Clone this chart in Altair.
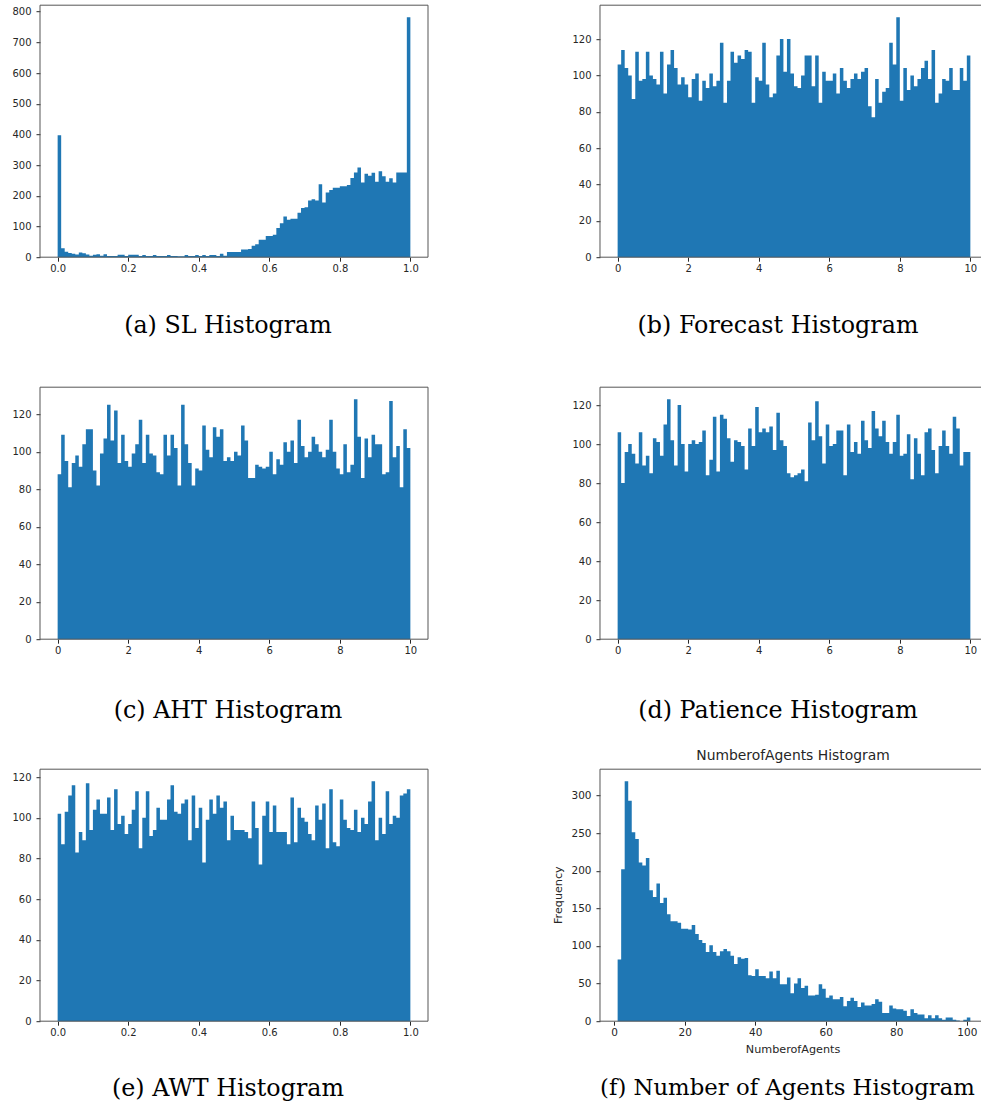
import altair as alt
import numpy as np
import pandas as pd

# Bin counts, 100 equal-width bins per variable
sl_counts = [397, 29, 18, 14, 11, 9, 15, 13, 9, 5,
             8, 10, 5, 10, 4, 4, 4, 8, 8, 4,
             8, 8, 8, 4, 7, 4, 4, 7, 4, 4,
             4, 7, 4, 4, 3, 3, 7, 4, 4, 7,
             4, 7, 4, 7, 7, 4, 11, 5, 17, 17,
             17, 17, 25, 25, 27, 37, 42, 57, 57, 69,
             69, 73, 95, 111, 133, 122, 125, 125, 145, 160,
             163, 185, 189, 185, 238, 178, 211, 219, 226, 226,
             231, 231, 235, 258, 276, 292, 243, 272, 265, 275,
             246, 280, 264, 246, 257, 243, 276, 276, 276, 782]

forecast_counts = [106, 114, 104, 100, 87, 113, 97, 98, 113, 100,
                   98, 95, 113, 90, 106, 114, 104, 95, 99, 95,
                   88, 98, 101, 86, 97, 93, 101, 94, 97, 118,
                   85, 97, 113, 107, 111, 109, 114, 113, 85, 99,
                   97, 118, 95, 88, 90, 111, 120, 102, 120, 101,
                   94, 93, 100, 111, 111, 94, 111, 85, 102, 97,
                   97, 101, 90, 104, 97, 93, 98, 101, 98, 102,
                   104, 83, 77, 98, 85, 91, 93, 118, 106, 132,
                   86, 104, 92, 100, 94, 98, 104, 108, 98, 114,
                   85, 90, 98, 97, 104, 92, 92, 104, 97, 111]

aht_counts = [88, 109, 95, 81, 94, 98, 92, 104, 112, 112,
              90, 82, 99, 107, 125, 106, 122, 94, 109, 95,
              92, 99, 104, 117, 94, 109, 99, 98, 89, 88,
              109, 98, 109, 102, 82, 125, 104, 94, 82, 91,
              90, 114, 101, 97, 113, 108, 112, 95, 97, 95,
              100, 98, 114, 106, 86, 86, 93, 92, 91, 92,
              100, 88, 96, 93, 105, 100, 106, 94, 117, 103,
              97, 100, 108, 104, 100, 97, 101, 117, 100, 91,
              88, 104, 89, 93, 128, 108, 86, 107, 97, 109,
              104, 104, 88, 89, 127, 97, 103, 81, 112, 102]

patience_counts = [106, 80, 96, 100, 95, 90, 106, 89, 94, 85,
                   103, 101, 94, 110, 123, 102, 89, 120, 100, 86,
                   100, 102, 100, 101, 107, 84, 92, 114, 86, 115,
                   113, 103, 91, 102, 101, 99, 87, 108, 99, 119,
                   106, 108, 106, 109, 97, 116, 102, 99, 85, 83,
                   84, 85, 87, 81, 111, 102, 122, 104, 90, 110,
                   99, 100, 107, 107, 84, 110, 96, 101, 95, 112,
                   102, 98, 117, 108, 104, 112, 101, 95, 101, 115,
                   94, 95, 105, 82, 103, 95, 84, 106, 108, 97,
                   85, 99, 107, 99, 95, 114, 108, 89, 96, 96]

awt_counts = [102, 87, 103, 111, 116, 83, 93, 89, 117, 94,
              104, 109, 102, 102, 110, 94, 114, 97, 101, 92,
              97, 104, 113, 85, 100, 113, 91, 94, 105, 99,
              99, 109, 116, 103, 102, 107, 109, 89, 111, 95,
              105, 78, 99, 109, 102, 111, 105, 108, 89, 101,
              94, 94, 94, 93, 90, 108, 95, 77, 101, 108,
              93, 106, 93, 93, 93, 87, 110, 88, 105, 100,
              98, 92, 89, 106, 99, 107, 85, 114, 88, 86,
              109, 99, 95, 94, 104, 93, 100, 97, 108, 118,
              89, 100, 92, 113, 97, 101, 100, 111, 112, 114]

agents_counts = [82, 202, 319, 293, 251, 242, 211, 207, 217, 174,
                 165, 183, 157, 164, 142, 133, 133, 131, 123, 123,
                 122, 128, 116, 108, 104, 92, 101, 92, 87, 93,
                 96, 93, 87, 76, 85, 83, 84, 61, 60, 69,
                 60, 60, 57, 66, 57, 67, 49, 49, 58, 37,
                 50, 57, 44, 47, 34, 34, 35, 49, 43, 31,
                 34, 29, 29, 32, 20, 27, 31, 27, 19, 25,
                 21, 21, 23, 29, 26, 11, 11, 21, 17, 16,
                 16, 14, 7, 16, 11, 9, 9, 4, 8, 4,
                 8, 4, 2, 5, 5, 2, 1, 0, 2, 5]

# Histogram ranges (first bin lower edge, last bin upper edge)
sl_range = (0.0, 1.0)
forecast_range = (0.0, 10.0)
aht_range = (0.0, 10.0)
patience_range = (0.0, 10.0)
awt_range = (0.0, 1.0)
agents_range = (1.0, 101.0)

# Tick labels
unit_xticks = [0.0, 0.2, 0.4, 0.6, 0.8, 1.0]
ten_xticks = [0, 2, 4, 6, 8, 10]
agents_xticks = [0, 20, 40, 60, 80, 100]
sl_yticks = [0, 100, 200, 300, 400, 500, 600, 700, 800]
flat_yticks = [0, 20, 40, 60, 80, 100, 120]
agents_yticks = [0, 50, 100, 150, 200, 250, 300]

captions = ["(a) SL Histogram", "(b) Forecast Histogram",
            "(c) AHT Histogram", "(d) Patience Histogram",
            "(e) AWT Histogram", "(f) Number of Agents Histogram"]
agents_title = "NumberofAgents Histogram"
agents_xlabel = "NumberofAgents"
agents_ylabel = "Frequency"

# Styling
BAR = "#1f77b4"
INK = "#262626"
FRAME = "#555555"
SANS = "DejaVu Sans"
SERIF = "DejaVu Serif"
CAPTION_SIZE = 23.8
FULL_W = 388      # nominal plot width (sets the x scale density)
LEFT_W = 388
RIGHT_W = 381     # right column is cropped at the page edge
PLOT_H = 252


def panel(counts, rng, xticks, xfmt, yticks, width, caption, cap_x, cap_y,
          right_edge=True, extras=None, tick_font=10, cap_size=CAPTION_SIZE):
    lo, hi = rng
    edges = np.linspace(lo, hi, len(counts) + 1)
    # step outline: each bin's count starts at its left edge; the last
    # count is repeated at the closing edge so the final bin keeps its width
    df = pd.DataFrame({"edge": edges, "count": list(counts) + [counts[-1]]})
    span = hi - lo
    x0 = lo - 0.05 * span
    x1 = x0 + 1.1 * span * width / FULL_W
    ymax = 1.05 * max(counts)

    common = dict(grid=False, domain=False, tickSize=4, tickColor=INK,
                  tickWidth=1, labelFont=SANS, labelFontSize=tick_font,
                  labelColor=INK, labelOverlap=False, labelFlush=False)

    bars = alt.Chart(df).mark_area(color=BAR, interpolate="step-after",
                                   opacity=1).encode(
        x=alt.X("edge:Q", title=None,
                scale=alt.Scale(domain=[x0, x1], nice=False, zero=False),
                axis=alt.Axis(values=xticks, format=xfmt, labelPadding=2, **common)),
        y=alt.Y("count:Q", title=None,
                scale=alt.Scale(domain=[0, ymax], nice=False, zero=True),
                axis=alt.Axis(values=yticks, labelPadding=5, **common)),
        y2=alt.datum(0),
    )

    base = alt.Chart(pd.DataFrame({"k": [0]}))
    frame = [
        base.mark_rule(color=FRAME, strokeWidth=1).encode(
            x=alt.value(0), y=alt.value(0), y2=alt.value(PLOT_H)),
        base.mark_rule(color=FRAME, strokeWidth=1).encode(
            x=alt.value(0), x2=alt.value(width), y=alt.value(0)),
        base.mark_rule(color=FRAME, strokeWidth=1).encode(
            x=alt.value(0), x2=alt.value(width), y=alt.value(PLOT_H)),
    ]
    if right_edge:
        frame.append(base.mark_rule(color=FRAME, strokeWidth=1).encode(
            x=alt.value(width), y=alt.value(0), y2=alt.value(PLOT_H)))

    cap = alt.Chart(pd.DataFrame({"t": [caption]})).mark_text(
        font=SERIF, fontSize=cap_size, color="black", align="center",
        baseline="middle"
    ).encode(text="t:N", x=alt.value(cap_x), y=alt.value(cap_y))

    layers = [bars] + frame + [cap] + (extras or [])
    return alt.layer(*layers).properties(width=width, height=PLOT_H)


def label(text, x, y, size, angle=0):
    return alt.Chart(pd.DataFrame({"t": [text]})).mark_text(
        font=SANS, fontSize=size, color=INK, align="center", baseline="middle",
        angle=angle
    ).encode(text="t:N", x=alt.value(x), y=alt.value(y))


agents_extras = [
    label(agents_title, 193, -13, 13.9),
    label(agents_xlabel, 193, PLOT_H + 29, 11.2),
    label(agents_ylabel, -41, PLOT_H / 2, 11.2, angle=270),
]

pa = panel(sl_counts, sl_range, unit_xticks, ".1f", sl_yticks, LEFT_W,
           captions[0], 188, 320.5)
pb = panel(forecast_counts, forecast_range, ten_xticks, "d", flat_yticks, RIGHT_W,
           captions[1], 178, 320.5, right_edge=False)
pc = panel(aht_counts, aht_range, ten_xticks, "d", flat_yticks, LEFT_W,
           captions[2], 188, 323.5)
pd_ = panel(patience_counts, patience_range, ten_xticks, "d", flat_yticks, RIGHT_W,
            captions[3], 178, 323.5, right_edge=False)
pe = panel(awt_counts, awt_range, unit_xticks, ".1f", flat_yticks, LEFT_W,
           captions[4], 188, 320)
pf = panel(agents_counts, agents_range, agents_xticks, "d", agents_yticks, RIGHT_W,
           captions[5], 187.5, 319, right_edge=False, extras=agents_extras,
           tick_font=10.5, cap_size=22.8)

chart = alt.concat(
    pa, pb, pc, pd_, pe, pf,
    columns=2,
    spacing={"row": 130, "column": 172},
    bounds="flush",
).properties(
    padding={"left": 11, "top": 4.2, "right": 0, "bottom": 0},
    background="white",
).configure_view(strokeWidth=0)

chart.save("out.html", embed_options={"renderer": "svg", "actions": False})
